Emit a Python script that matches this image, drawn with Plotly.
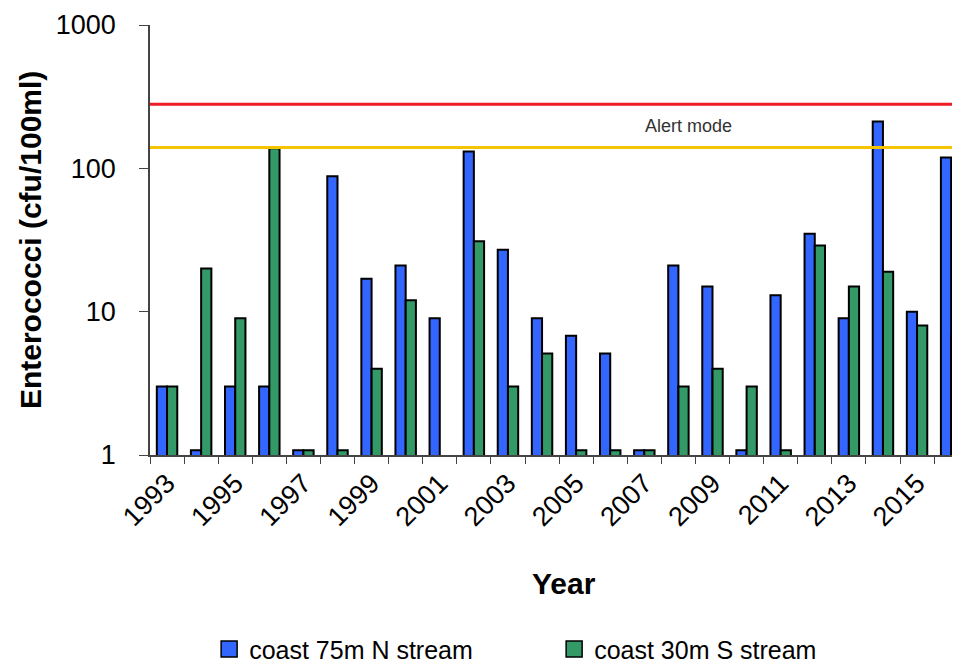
import plotly.graph_objects as go

years = [str(y) for y in range(1993, 2017)]
tick_labels = [y if int(y) % 2 == 1 else "" for y in years]

north_75m = [3, 1.08, 3, 3, 1.08, 88, 17, 21, 9, 131, 27, 9, 6.8, 5.1, 1.08,
             21, 15, 1.08, 13, 35, 9, 212, 10, 119]
south_30m = [3, 20, 9, 138, 1.08, 1.08, 4, 12, None, 31, 3, 5.1, 1.08, 1.08, 1.08,
             3, 4, 3, 1.08, 29, 15, 19, 8, 6.8]

limit_red = 280
limit_alert = 140

FONT = "Liberation Sans, Arial, sans-serif"
BLUE = "#3366FF"
GREEN = "#339966"

fig = go.Figure()
fig.add_trace(go.Bar(x=years, y=north_75m, name="coast 75m N stream", showlegend=False,
                     marker=dict(color=BLUE, line=dict(color="black", width=2))))
fig.add_trace(go.Bar(x=years, y=south_30m, name="coast 30m S stream", showlegend=False,
                     marker=dict(color=GREEN, line=dict(color="black", width=2))))
# legend entries with larger square swatches
for name, col in [("coast 75m N stream", BLUE), ("coast 30m S stream", GREEN)]:
    fig.add_trace(go.Scatter(x=[None], y=[None], mode="markers", name=name,
                             marker=dict(symbol="square", size=16, color=col,
                                         line=dict(color="black", width=1.5))))

fig.add_shape(type="line", xref="paper", x0=0, x1=1, yref="y", y0=limit_red, y1=limit_red,
              line=dict(color="#EE1C25", width=3))
fig.add_shape(type="line", xref="paper", x0=0, x1=1, yref="y", y0=limit_alert, y1=limit_alert,
              line=dict(color="#F5C400", width=3))

fig.add_annotation(text="Alert mode", xref="paper", yref="paper", x=0.665, y=0.765,
                   xanchor="center", yanchor="middle",
                   showarrow=False, font=dict(family=FONT, size=18, color="#333333"))
fig.add_annotation(text="<b>Enterococci (cfu/100ml)</b>", xref="paper", yref="paper",
                   x=-0.148, y=0.5, textangle=-90, showarrow=False,
                   xanchor="center", yanchor="middle",
                   font=dict(family=FONT, size=30, color="black"))
fig.add_annotation(text="<b>Year</b>", xref="paper", yref="paper", x=0.511, y=-0.298,
                   showarrow=False, xanchor="center", yanchor="middle",
                   font=dict(family=FONT, size=30, color="black"))

fig.update_layout(
    width=952, height=661,
    margin=dict(l=142, r=0, t=17, b=214, autoexpand=False),
    paper_bgcolor="white", plot_bgcolor="white",
    barmode="group", bargap=0.40, bargroupgap=0,
    showlegend=True,
    legend=dict(orientation="h", x=0.073, xanchor="left", y=-0.452, yanchor="middle",
                font=dict(family=FONT, size=25, color="black"),
                entrywidth=300, entrywidthmode="pixels", itemwidth=30,
                bgcolor="rgba(0,0,0,0)"),
    font=dict(family=FONT, color="black"),
)
fig.update_xaxes(type="category", range=[-0.5, 23.26],
                 tickvals=years, ticktext=tick_labels, tickangle=-45,
                 tickson="boundaries", ticks="outside", ticklen=7, tickcolor="#444",
                 showline=True, linecolor="#444", linewidth=1.5,
                 showgrid=False, tickfont=dict(family=FONT, size=27, color="black"))
fig.update_yaxes(type="log", range=[0, 3],
                 tickvals=[1, 10, 100, 1000], ticktext=["1", "10", "100", "1000"],
                 ticks="outside", ticklen=9, tickcolor="#444", ticklabelstandoff=18,
                 showline=True, linecolor="#444", linewidth=1.5,
                 showgrid=False, zeroline=False,
                 tickfont=dict(family=FONT, size=27, color="black"))

fig.write_html("out.html")
